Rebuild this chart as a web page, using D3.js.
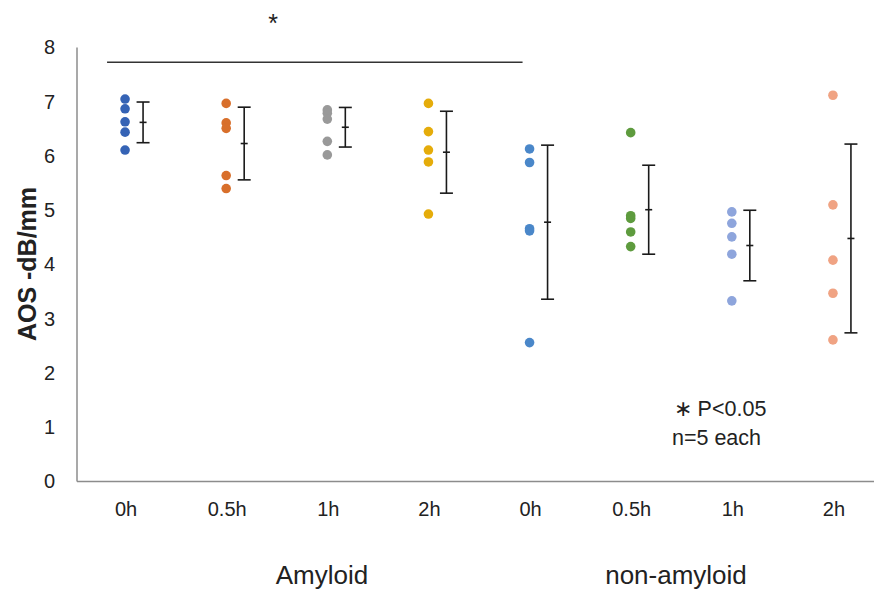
<!DOCTYPE html>
<html><head><meta charset="utf-8">
<script src="https://cdn.jsdelivr.net/npm/d3@7"></script>
<style>body{margin:0;background:#fff}svg{display:block}text{font-family:"Liberation Sans",Arial,sans-serif;fill:#222}</style>
</head><body>
<script>
const categories = ["0h","0.5h","1h","2h","0h","0.5h","1h","2h"];
const groupLabels = ["Amyloid","non-amyloid"];
const colors = ["#3563b5","#d86f2b","#999999","#e5ac0a","#4a87c9","#5e9b3e","#8ea5dc","#f0a383"];
const values = [
  [7.05, 6.87, 6.63, 6.44, 6.11],
  [6.97, 6.61, 6.51, 5.64, 5.40],
  [6.85, 6.79, 6.68, 6.27, 6.02],
  [6.97, 6.45, 6.11, 5.89, 4.93],
  [6.13, 5.88, 4.66, 4.62, 2.56],
  [6.43, 4.90, 4.85, 4.60, 4.33],
  [4.97, 4.76, 4.51, 4.19, 3.33],
  [7.12, 5.10, 4.08, 3.47, 2.61]
];
const means = [6.62, 6.23, 6.53, 6.07, 4.78, 5.01, 4.35, 4.48];
const sds = [0.375, 0.67, 0.365, 0.755, 1.42, 0.82, 0.65, 1.74];
const yTicks = [0,1,2,3,4,5,6,7,8];

const W = 874, H = 590;
const svg = d3.select("body").append("svg").attr("width", W).attr("height", H);
const y = d3.scaleLinear().domain([0, 8]).range([481.5, 47.5]);
const x = d3.scaleBand().domain(d3.range(categories.length)).range([75.5, 884.5]);
const cx = i => x(i) + x.bandwidth() / 2;

// axes lines
svg.append("line").attr("x1", 77).attr("x2", 77).attr("y1", y(8)).attr("y2", y(0))
  .attr("stroke", "#8c8c8c").attr("stroke-width", 1.5);
svg.append("line").attr("x1", 77).attr("x2", 874).attr("y1", y(0)).attr("y2", y(0))
  .attr("stroke", "#8c8c8c").attr("stroke-width", 1.5);

// y axis labels
const yAxis = d3.axisLeft(y).tickValues(yTicks).tickSize(0).tickPadding(0).tickFormat(d3.format("d"));
const gy = svg.append("g").attr("transform", "translate(55,0)").call(yAxis);
gy.select(".domain").remove();
gy.selectAll("text").style("font-size", "20px").attr("fill", "#222");

// x axis labels
const xAxis = d3.axisBottom(x).tickFormat(i => categories[i]).tickSize(0).tickPadding(0);
const gx = svg.append("g").attr("transform", "translate(0,501.5)").call(xAxis);
gx.select(".domain").remove();
gx.selectAll("text").style("font-size", "20px").attr("fill", "#222");

// group labels
const groupX = [322, 676];
groupLabels.forEach((g, k) => {
  svg.append("text").attr("x", groupX[k]).attr("y", 584)
    .attr("text-anchor", "middle").style("font-size", "26px").text(g);
});

// y title
svg.append("text").attr("transform", "translate(36,264) rotate(-90)")
  .attr("text-anchor", "middle").style("font-size", "25px").style("font-weight", "bold").text("AOS -dB/mm");

// dots
values.forEach((vals, i) => {
  svg.append("g").selectAll("circle").data(vals).join("circle")
    .attr("cx", cx(i) - 1).attr("cy", d => y(d)).attr("r", 4.8).attr("fill", colors[i]);
});

// error bars
const eb = svg.append("g").attr("stroke", "#1a1a1a").attr("stroke-width", 1.6);
means.forEach((m, i) => {
  const ex = cx(i) + 17;
  eb.append("line").attr("x1", ex).attr("x2", ex).attr("y1", y(m + sds[i])).attr("y2", y(m - sds[i]));
  eb.append("line").attr("x1", ex - 6.5).attr("x2", ex + 6.5).attr("y1", y(m + sds[i])).attr("y2", y(m + sds[i]));
  eb.append("line").attr("x1", ex - 6.5).attr("x2", ex + 6.5).attr("y1", y(m - sds[i])).attr("y2", y(m - sds[i]));
  eb.append("line").attr("x1", ex - 3.5).attr("x2", ex + 3.5).attr("y1", y(m)).attr("y2", y(m));
});

// significance bar
svg.append("line").attr("x1", cx(0) - 19).attr("x2", cx(4) - 8).attr("y1", y(7.73)).attr("y2", y(7.73))
  .attr("stroke", "#333").attr("stroke-width", 1.5);
svg.append("text").attr("x", 273).attr("y", 32).attr("text-anchor", "middle").style("font-size", "25px").text("*");

// annotations
svg.append("text").attr("x", 720).attr("y", 416).attr("text-anchor", "middle").style("font-size", "21.5px").text("∗ P<0.05");
svg.append("text").attr("x", 716.5).attr("y", 445).attr("text-anchor", "middle").style("font-size", "21.5px").text("n=5 each");
</script>
</body></html>
